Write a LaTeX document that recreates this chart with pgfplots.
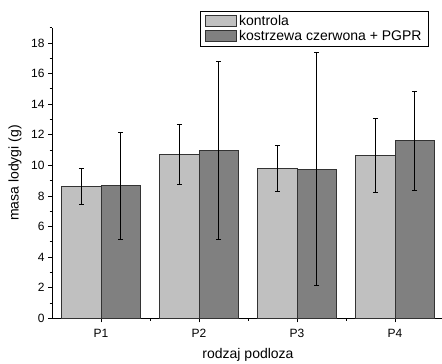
\documentclass[border=0pt]{standalone}
\usepackage{pgfplots}
\pgfplotsset{compat=1.18}
\usepackage{fontspec}
\setmainfont{Liberation Sans}
\definecolor{lightbar}{HTML}{C0C0C0}
\definecolor{darkbar}{HTML}{808080}
\begin{document}
\begin{tikzpicture}
\useasboundingbox (0,0) rectangle (442pt,364pt);
\begin{axis}[
  at={(52pt,45.7pt)}, anchor=south west,
  scale only axis, width=392pt, height=290.6pt,
  xmin=0.5, xmax=4.5, ymin=0, ymax=19,
  axis x line*=bottom, axis y line*=left,
  axis line style={-, line width=0.8pt},
  xtick={1,2,3,4}, xticklabels={P1,P2,P3,P4},
  minor xtick={1.5,2.5,3.5},
  ytick={0,2,...,18}, minor ytick={1,3,...,19},
  tick align=outside, major tick length=4pt, minor tick length=2.5pt,
  tick style={black, line width=0.8pt},
  ticklabel style={font=\fontsize{12}{14}\selectfont},
  xticklabel style={yshift=-3pt},
  /pgf/number format/assume math mode=true,
  xlabel={rodzaj podloza}, ylabel={masa lodygi (g)},
  label style={font=\fontsize{14}{17}\selectfont},
  xlabel style={at={(rel axis cs:0.5,-0.127)}, anchor=center},
  ylabel style={at={(rel axis cs:-0.0944,0.5)}, anchor=center},
  ybar=0pt, bar width=0.4,
  legend style={at={(rel axis cs:0.9617,1.0586)}, anchor=north east,
    draw=black, line width=0.8pt, font=\fontsize{14}{17}\selectfont,
    inner xsep=5pt, inner ysep=2pt, row sep=0pt,
    cells={anchor=west, inner xsep=0.8pt, inner ysep=2.15pt, text height=10pt, text depth=3pt}},
  legend image code/.code={\draw[#1, line width=0.8pt] (0pt,-5.5pt) rectangle (31pt,5.5pt);},
]
\addplot[bar shift=-0.2, fill=lightbar, draw=black!80, line width=0.8pt,
  error bars/.cd, y dir=both, y explicit,
  error bar style={black, line width=0.7pt},
  error mark options={rotate=90, mark size=2.5pt, black, line width=0.7pt}]
  coordinates {(1,8.62) +- (0,1.20) (2,10.71) +- (0,1.98) (3,9.80) +- (0,1.50) (4,10.67) +- (0,2.41)};
\addplot[bar shift=0.2, fill=darkbar, draw=black!80, line width=0.8pt,
  error bars/.cd, y dir=both, y explicit,
  error bar style={black, line width=0.7pt},
  error mark options={rotate=90, mark size=2.5pt, black, line width=0.7pt}]
  coordinates {(1,8.66) +- (0,3.50) (2,10.97) +- (0,5.80) (3,9.75) +- (0,7.62) (4,11.60) +- (0,3.22)};
\legend{kontrola, kostrzewa czerwona + PGPR}
\end{axis}
\end{tikzpicture}
\end{document}
